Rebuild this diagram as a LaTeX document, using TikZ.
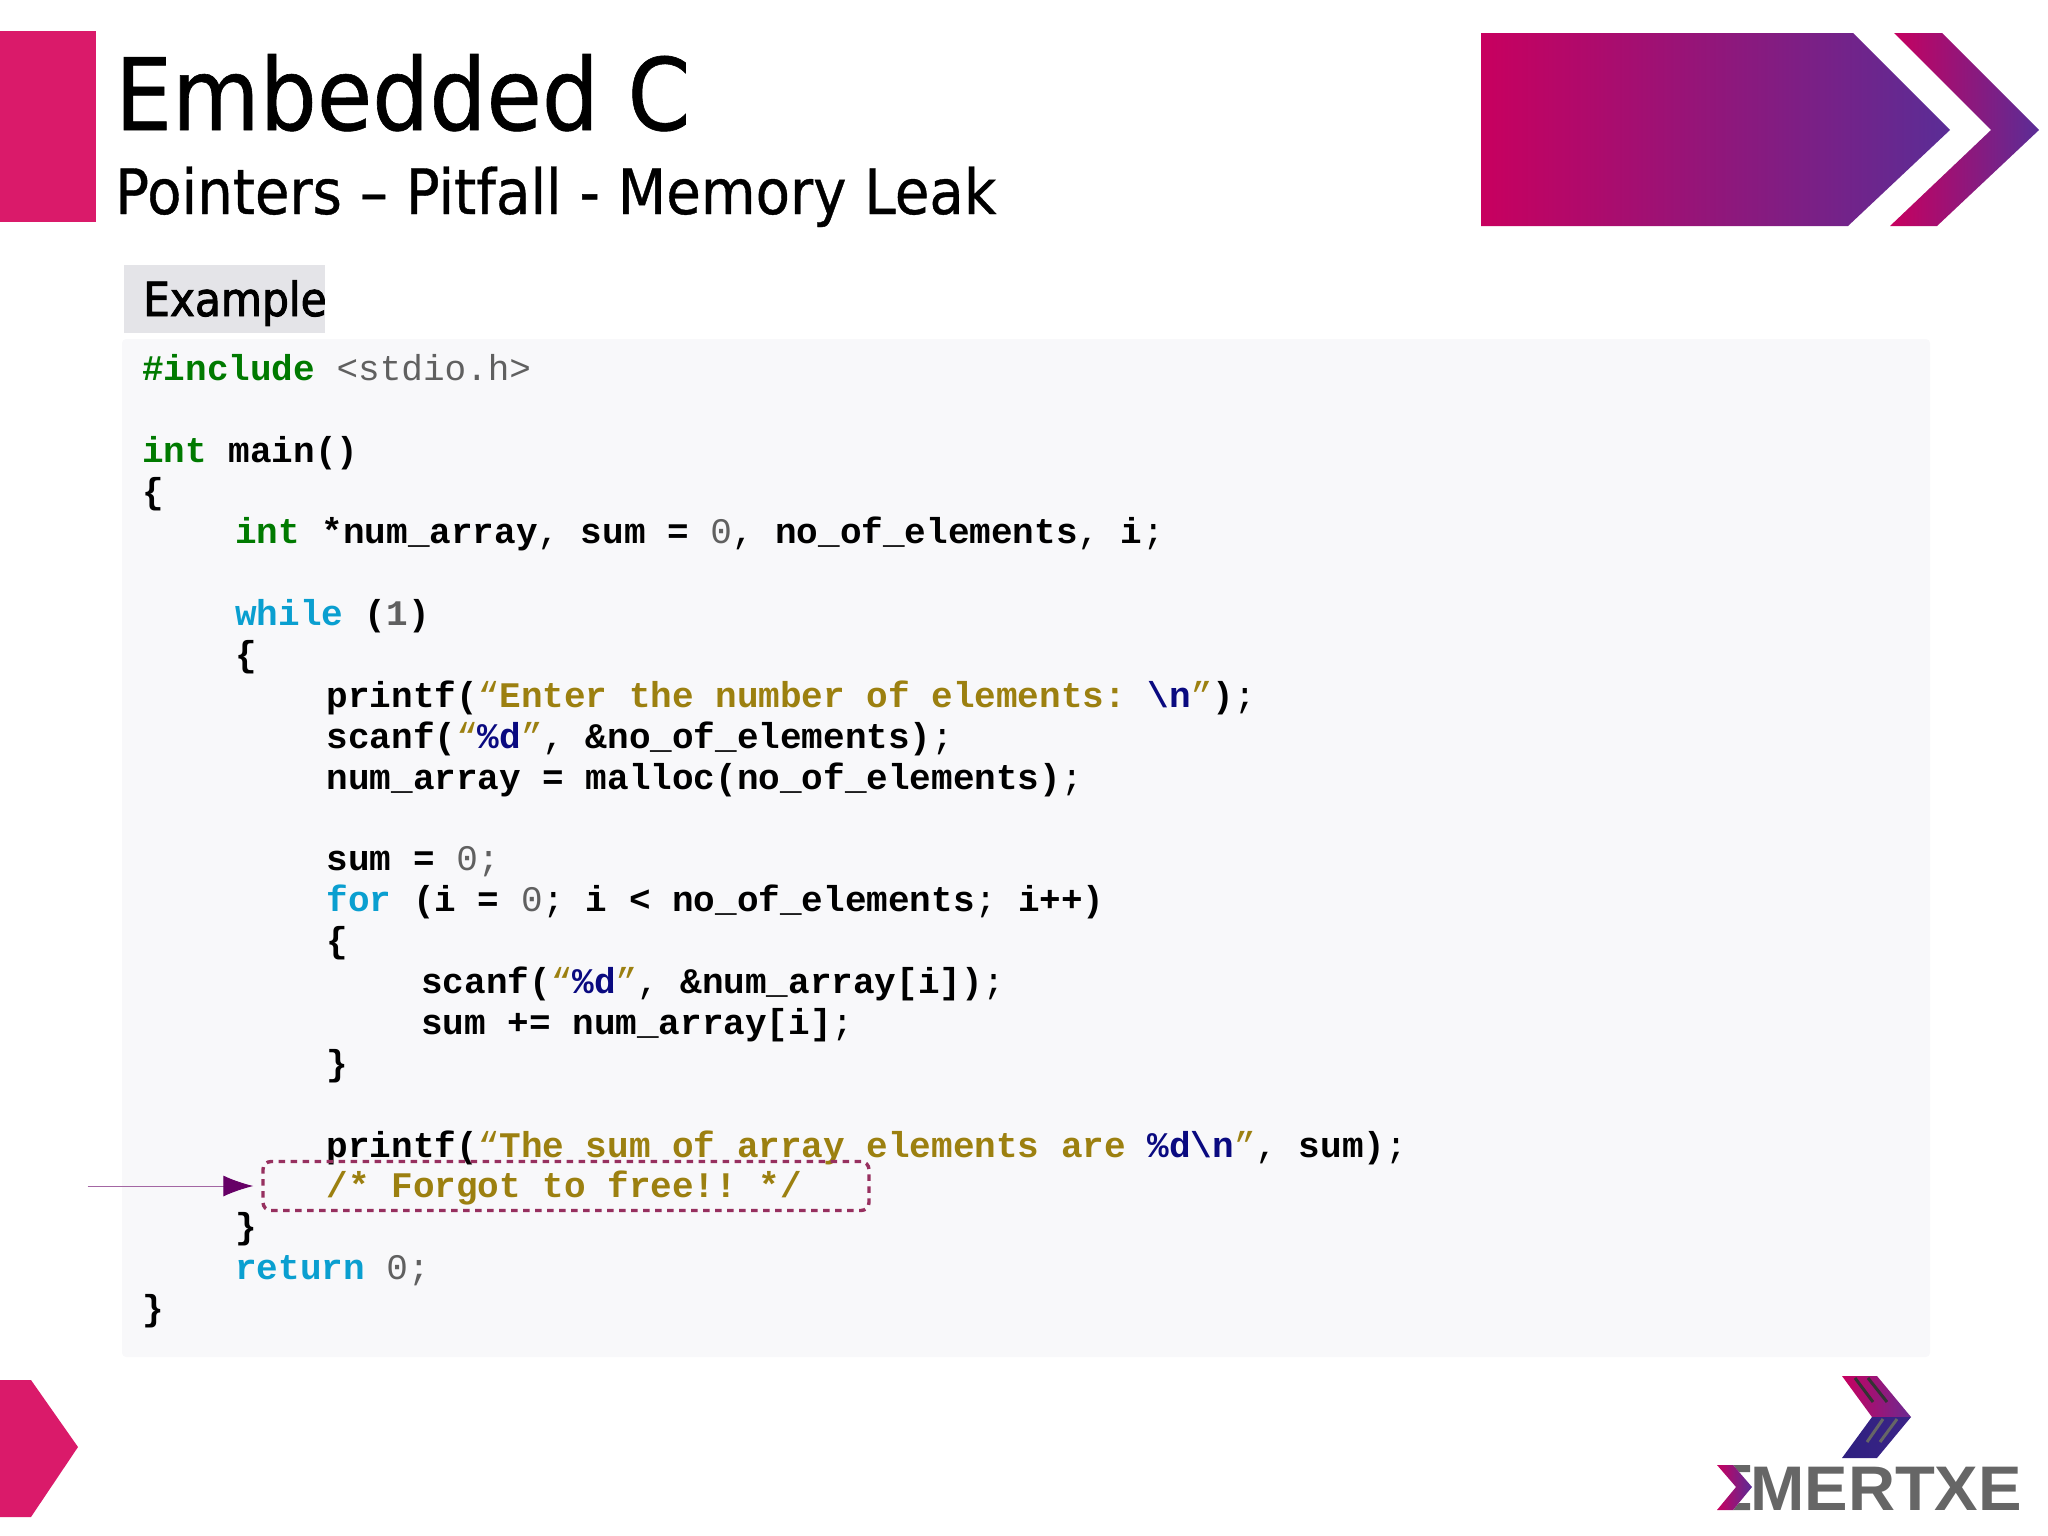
\documentclass[tikz,border=0pt]{standalone}
\usepackage{fontspec}
\setmainfont{DejaVu Sans}
\setmonofont{Liberation Mono}
\newfontfamily\slidefont[FakeStretch=0.9,FakeBold=0.6]{DejaVu Sans}
\newfontfamily\tabfont[FakeStretch=0.9,FakeBold=2]{DejaVu Sans}
\newfontfamily\logofont[FakeStretch=1.035]{Liberation Sans}
\usetikzlibrary{arrows.meta,positioning}
\definecolor{slidepink}{HTML}{DA1A6A}
\definecolor{bannerleft}{HTML}{C8005F}
\definecolor{bannermid}{HTML}{B01E7E}
\definecolor{bannerright}{HTML}{5A2D96}
\definecolor{panelgrey}{HTML}{F8F8FA}
\definecolor{tabgrey}{HTML}{E4E4E8}
\definecolor{kwgreen}{HTML}{007A00}
\definecolor{kwblue}{HTML}{0A9FD0}
\definecolor{numgrey}{HTML}{606060}
\definecolor{strolive}{HTML}{9C8010}
\definecolor{escnavy}{HTML}{0A0A80}
\definecolor{boxplum}{HTML}{97305F}
\definecolor{arrowplum}{HTML}{660066}
\definecolor{logogrey}{HTML}{666666}
\definecolor{logonavy}{HTML}{2E2080}
\newcommand{\kgreen}[1]{\textcolor{kwgreen}{\textbf{#1}}}
\newcommand{\kblue}[1]{\textcolor{kwblue}{\textbf{#1}}}
\newcommand{\num}[1]{\textcolor{numgrey}{#1}}
\newcommand{\str}[1]{\textcolor{strolive}{\textbf{#1}}}
\newcommand{\esc}[1]{\textcolor{escnavy}{\textbf{#1}}}
\newcommand{\pn}[1]{{\mdseries #1}}
\newcommand{\opq}{\textcolor{strolive}{\mdseries “}}
\newcommand{\clq}{\textcolor{strolive}{\mdseries ”}}
\tikzset{
  code/.style={anchor=base west,inner sep=0pt,font=\ttfamily\bfseries\fontsize{36}{36}\selectfont},
  forgot/.style={draw=boxplum,line width=3.4pt,dash pattern=on 6.5pt off 5.5pt,rounded corners=8pt,inner sep=0pt,minimum width=606pt,minimum height=49pt},
  leak/.style={draw=arrowplum!60,line width=1pt,shorten >=8pt,-{Latex[length=30pt,width=21pt,color=arrowplum]}},
  bannerfill/.style={left color=bannerleft,middle color=bannermid,right color=bannerright}
}
\begin{document}
\begin{tikzpicture}[x=1pt,y=-1pt]
  \useasboundingbox (0,0) rectangle (2048,1535);
  % slide furniture
  \fill[slidepink] (0,31) rectangle (96,222);
  \fill[slidepink] (0,1380) -- (31,1380) -- (78,1447) -- (31,1517) -- (0,1517) -- cycle;
  \shade[bannerfill] (1481,33) -- (1853,33) -- (1950,130) -- (1848,226) -- (1481,226) -- cycle;
  \shade[bannerfill] (1894,33) -- (1942,33) -- (2039,130) -- (1937,226) -- (1890,226) -- (1991,130) -- cycle;
  % heading
  \node[anchor=base west,inner sep=0pt,font=\slidefont\fontsize{100}{100}\selectfont] (title) at (115,130) {Embedded C};
  \node[anchor=base west,inner sep=0pt,font=\slidefont\fontsize{62.5}{62.5}\selectfont] (subtitle) at (115,214) {Pointers – Pitfall - Memory Leak};
  % panels
  \fill[panelgrey,rounded corners=4pt] (122,339) rectangle (1930,1357);
  \fill[tabgrey] (124,265) rectangle (325,333);
  \node[anchor=base west,inner sep=0pt,font=\tabfont\fontsize{47}{47}\selectfont] (example) at (143,316) {Example};
  % code
  \node[code] (include) at (142,380) {\kgreen{\#include} \num{\mdseries<stdio.h>}};
  \node[code] (mainfn) at (142,462) {\kgreen{int} main()};
  \node[code] (open) at (142,503) {\{};
  \node[code] (decl) at (235,543.5) {\kgreen{int} *num\_array\pn{,} sum = \num{\mdseries 0}\pn{,} no\_of\_elements\pn{,} i\pn{;}};
  \node[code] (while) at (235,625) {\kblue{while} (\num{1})};
  \node[code] (whileopen) at (235,666) {\{};
  \node[code] (prompt) at (326.5,707) {printf(\opq\str{Enter the number of elements: }\esc{\textbackslash n}\clq)\pn{;}};
  \node[code] (scancount) at (326.5,748) {scanf(\opq\esc{\%d}\clq\pn{,} \&no\_of\_elements)\pn{;}};
  \node[code] (alloc) at (326.5,789) {num\_array = malloc(no\_of\_elements)\pn{;}};
  \node[code] (sumzero) at (326.5,870) {sum = \num{\mdseries 0;}};
  \node[code] (forloop) at (326.5,911) {\kblue{for} (i = \num{\mdseries 0}\pn{;} i < no\_of\_elements\pn{;} i++)};
  \node[code] (foropen) at (326.5,952) {\{};
  \node[code] (scanitem) at (421,993) {scanf(\opq\esc{\%d}\clq\pn{,} \&num\_array[i])\pn{;}};
  \node[code] (addup) at (421,1034) {sum += num\_array[i]\pn{;}};
  \node[code] (forclose) at (326.5,1075) {\}};
  \node[code] (result) at (326.5,1157) {printf(\opq\str{The sum of array elements are }\esc{\%d\textbackslash n}\clq\pn{,} sum)\pn{;}};
  \node[code] (leakline) at (326.5,1197) {\str{/* Forgot to free!! */}};
  \node[code] (whileclose) at (235,1238) {\}};
  \node[code] (ret) at (235,1279) {\kblue{return} \num{\mdseries 0;}};
  \node[code] (close) at (142,1320) {\}};
  % the leak marker
  \node[forgot] (forgotbox) at (566,1186) {};
  \coordinate (leakstart) at (87.5,1186);
  \draw[leak] (leakstart) -- (forgotbox);
  % logo
  \shade[left color=bannerleft,right color=bannerright!80!bannermid]
    (1842,1376) -- (1877,1376) -- (1911,1417) -- (1872,1417) -- cycle;
  \shade[left color=logonavy,right color=logonavy!70!bannerright]
    (1872,1417) -- (1911,1417) -- (1877,1458) -- (1842,1458) -- cycle;
  \draw[line width=3pt,black!80] (1855,1378) -- (1873,1402) (1868,1378) -- (1887,1402);
  \draw[line width=3pt,logogrey] (1883,1419) -- (1867,1442) (1897,1419) -- (1880,1442);
  \node[anchor=base west,inner sep=0pt,font=\logofont\bfseries\fontsize{63}{63}\selectfont,text=logogrey] (logotext) at (1750,1510) {MERTXE};
  \fill[logogrey] (1733,1465) -- (1750,1465) -- (1750,1472) -- (1739,1472) -- cycle;
  \fill[logogrey] (1733,1510) -- (1750,1510) -- (1750,1503) -- (1739,1503) -- cycle;
  \shade[left color=bannerleft,right color=bannerright]
    (1717,1465) -- (1733,1465) -- (1752,1487) -- (1733,1510) -- (1717,1510) -- (1736,1487) -- cycle;
\end{tikzpicture}
\end{document}
